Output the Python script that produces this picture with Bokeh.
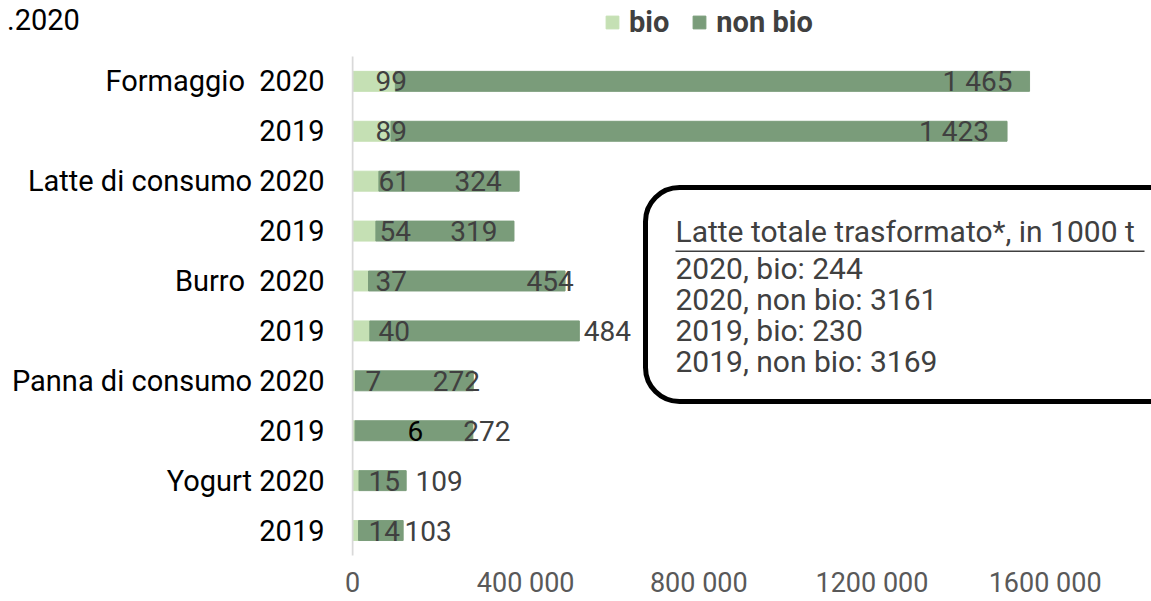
from bokeh.plotting import figure
from bokeh.models import ColumnDataSource, Range1d, FixedTicker, BoxAnnotation, Label
from bokeh.core.properties import value
from bokeh.embed import file_html
from bokeh.resources import INLINE

# ---------------- data ----------------
title_fragment = ".2020"
categories = ["Formaggio\u00a0 2020", "2019", "Latte di consumo 2020", "2019",
              "Burro\u00a0 2020", "2019", "Panna di consumo 2020", "2019",
              "Yogurt 2020", "2019"]
series_names = ["bio", "non bio"]
bio = [99, 89, 61, 54, 37, 40, 7, 6, 15, 14]                      # 1000 t
non_bio = [1465, 1423, 324, 319, 454, 484, 272, 272, 109, 103]    # 1000 t
x_tick_values = [0, 400000, 800000, 1200000, 1600000]
x_tick_labels = ["0", "400 000", "800 000", "1200 000", "1600 000"]
note_title = "Latte totale trasformato*, in 1000 t"
note_lines = ["2020, bio: 244", "2020, non bio: 3161", "2019, bio: 230", "2019, non bio: 3169"]

# ---------------- style ----------------
FONT = "Roboto"
LIGHT = "#C5E0B4"
DARK = "#7A9C7A"
TEXT = "#404040"
# hand-placed label nudges of the original (pixels)
bio_dx = [23, 23, 26, 27, 23, 26, 13, 55, 16, 16]
non_dx = [-52, -53, -41, -40, -15, 28, -17, 14, 33, 25]
bio_col = [TEXT] * 7 + ["#000000"] + [TEXT] * 2

n = len(categories)
ys = list(range(n))
bio_t = [v * 1000 for v in bio]
non_t = [v * 1000 for v in non_bio]
ends = [a + b for a, b in zip(bio_t, non_t)]

src = ColumnDataSource(dict(
    y=ys, bio=bio_t, nonbio=non_t, end=ends, zero=[0] * n,
    bio_lab=[str(v) for v in bio],
    non_lab=[f"{v:,}".replace(",", " ") for v in non_bio],
    bio_dx=bio_dx, non_dx=non_dx, bio_col=bio_col,
))

# plot area reaches the top of the page so the legend row lies inside it
TOP_ROW = -1.62          # upper end of the category scale (legend strip)
TITLE_ROW = -1.22        # row of the cut-off title fragment
p = figure(width=1151, height=601,
           x_range=Range1d(-2310, 1845700), y_range=Range1d(n - 0.5, TOP_ROW),
           output_backend="svg", toolbar_location=None,
           min_border_left=351, min_border_right=0,
           min_border_top=0, min_border_bottom=45)
p.outline_line_color = None
p.xgrid.visible = False
p.ygrid.visible = False
p.background_fill_color = "white"
p.border_fill_color = "white"

p.hbar_stack(["bio", "nonbio"], y="y", height=0.4, color=[LIGHT, DARK],
             source=src, legend_label=series_names)

p.text(x="zero", y="y", text="bio_lab", x_offset="bio_dx", source=src,
       text_align="left", text_baseline="middle", text_color="bio_col",
       text_font=value(FONT), text_font_size="28px")
p.text(x="end", y="y", text="non_lab", x_offset="non_dx", source=src,
       text_align="center", text_baseline="middle", text_color=TEXT,
       text_font=value(FONT), text_font_size="28px")

# y axis (category labels); its line is drawn only along the category rows
ya = p.yaxis[0]
ya.ticker = FixedTicker(ticks=ys + [TITLE_ROW])
overrides = {i: c for i, c in enumerate(categories)}
overrides[TITLE_ROW] = title_fragment + "\u00a0" * 34
ya.major_label_overrides = overrides
ya.axis_line_color = None
ya.major_tick_line_color = None
ya.minor_tick_line_color = None
ya.major_tick_out = 0
ya.major_tick_in = 0
ya.major_label_standoff = 27
ya.major_label_text_font = FONT
ya.major_label_text_font_size = "29px"
ya.major_label_text_color = "#000000"
p.add_layout(BoxAnnotation(left=0, right=0, top=-0.5, bottom=n - 0.26,
                           fill_alpha=0, line_color="#D9D9D9", line_alpha=1.0,
                           line_width=2))

# x axis
xa = p.xaxis[0]
xa.ticker = FixedTicker(ticks=x_tick_values)
xa.major_label_overrides = dict(zip(x_tick_values, x_tick_labels))
xa.axis_line_color = None
xa.major_tick_line_color = None
xa.minor_tick_line_color = None
xa.major_tick_out = 0
xa.major_tick_in = 0
xa.major_label_standoff = 11
xa.major_label_text_font = FONT
xa.major_label_text_font_size = "27px"
xa.major_label_text_color = "#595959"

# legend
leg = p.legend[0]
leg.location = (253, 516)
leg.orientation = "horizontal"
leg.label_text_font = FONT
leg.label_text_font_style = "bold"
leg.label_text_font_size = "29px"
leg.label_text_color = TEXT
leg.glyph_width = 16
leg.glyph_height = 16
leg.label_standoff = 9
leg.spacing = 22
leg.padding = 0
leg.margin = 0
leg.border_line_color = None
leg.background_fill_alpha = 0

# note box
p.add_layout(BoxAnnotation(left=294, right=851, top=368, bottom=154,
                           left_units="screen", right_units="screen",
                           top_units="screen", bottom_units="screen",
                           fill_color="white", fill_alpha=1.0,
                           line_color="black", line_alpha=1.0, line_width=5,
                           border_radius=34))
p.add_layout(Label(x=324, y=324, x_units="screen", y_units="screen", text=note_title,
                   text_font=FONT, text_font_size="30px", text_color=TEXT,
                   text_baseline="middle", text_align="left"))
p.add_layout(BoxAnnotation(left=324, right=793, top=305, bottom=303.5,
                           left_units="screen", right_units="screen",
                           top_units="screen", bottom_units="screen",
                           fill_color=TEXT, fill_alpha=1.0, line_color=None))
for i, t in enumerate(note_lines):
    p.add_layout(Label(x=324, y=287 - 31 * i, x_units="screen", y_units="screen", text=t,
                       text_font=FONT, text_font_size="30px", text_color=TEXT,
                       text_baseline="middle", text_align="left"))

open("out.html", "w").write(file_html(p, INLINE))
